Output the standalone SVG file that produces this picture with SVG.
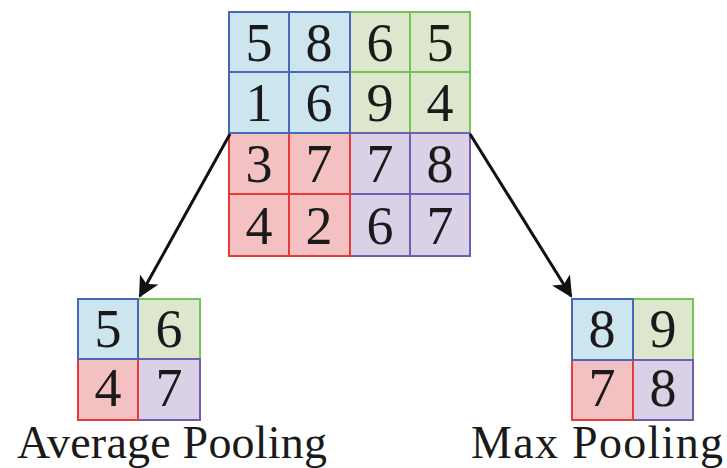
<svg xmlns="http://www.w3.org/2000/svg" width="727" height="468" viewBox="0 0 727 468">
  <defs>
    <style>
      .b { fill: #cde5ee; stroke: #4a66b8; stroke-width: 2; }
      .g { fill: #dde7cd; stroke: #74c458; stroke-width: 2; }
      .r { fill: #f3c1c1; stroke: #e93a3a; stroke-width: 2; }
      .p { fill: #dbd1e6; stroke: #6f5fae; stroke-width: 2; }
      text { font-family: "Liberation Serif", "Times New Roman", "DejaVu Serif", serif; fill: #1a1a1a; }
      .d { font-size: 54px; text-anchor: middle; }
      .lbl { font-size: 46px; }
      .conn { stroke: #111; stroke-width: 3; fill: none; marker-end: url(#head); }
    </style>
    <marker id="head" viewBox="0 0 10 10" refX="9" refY="5" markerWidth="7" markerHeight="7" markerUnits="strokeWidth" orient="auto">
      <path d="M0,0 L10,5 L0,10 L2.5,5 Z" fill="#111"/>
    </marker>
  </defs>
  <rect width="727" height="468" fill="#ffffff"/>

  <!-- 4x4 input feature map -->
  <g id="input">
    <rect class="g" x="350" y="12" width="60" height="60"/>
    <rect class="g" x="410" y="12" width="60" height="60"/>
    <rect class="g" x="350" y="72" width="60" height="61"/>
    <rect class="g" x="410" y="72" width="60" height="61"/>
    <rect class="p" x="350" y="133" width="60" height="61"/>
    <rect class="p" x="410" y="133" width="60" height="61"/>
    <rect class="p" x="350" y="194" width="60" height="62"/>
    <rect class="p" x="410" y="194" width="60" height="62"/>
    <rect class="r" x="229" y="133" width="60" height="61"/>
    <rect class="r" x="289" y="133" width="61" height="61"/>
    <rect class="r" x="229" y="194" width="60" height="62"/>
    <rect class="r" x="289" y="194" width="61" height="62"/>
    <rect class="b" x="229" y="12" width="60" height="60"/>
    <rect class="b" x="289" y="12" width="61" height="60"/>
    <rect class="b" x="229" y="72" width="60" height="61"/>
    <rect class="b" x="289" y="72" width="61" height="61"/>
    <text class="d" x="259" y="61">5</text>
    <text class="d" x="319" y="61">8</text>
    <text class="d" x="380" y="61">6</text>
    <text class="d" x="440" y="61">5</text>
    <text class="d" x="259" y="121">1</text>
    <text class="d" x="319" y="121">6</text>
    <text class="d" x="380" y="121">9</text>
    <text class="d" x="440" y="121">4</text>
    <text class="d" x="259" y="182">3</text>
    <text class="d" x="319" y="182">7</text>
    <text class="d" x="380" y="182">7</text>
    <text class="d" x="440" y="182">8</text>
    <text class="d" x="259" y="244">4</text>
    <text class="d" x="319" y="244">2</text>
    <text class="d" x="380" y="244">6</text>
    <text class="d" x="440" y="244">7</text>
  </g>

  <!-- 2x2 average pooling result -->
  <g id="avg">
    <rect class="g" x="138" y="299" width="62" height="60"/>
    <rect class="p" x="138" y="359" width="62" height="61"/>
    <rect class="r" x="78" y="359" width="60" height="61"/>
    <rect class="b" x="78" y="299" width="60" height="60"/>
    <text class="d" x="108" y="347">5</text>
    <text class="d" x="169" y="347">6</text>
    <text class="d" x="108" y="406">4</text>
    <text class="d" x="169" y="406">7</text>
    <text class="lbl" x="17" y="458" textLength="310">Average Pooling</text>
  </g>

  <!-- 2x2 max pooling result -->
  <g id="max">
    <rect class="g" x="633" y="299" width="60" height="61"/>
    <rect class="p" x="633" y="360" width="60" height="60"/>
    <rect class="r" x="572" y="360" width="61" height="60"/>
    <rect class="b" x="572" y="299" width="61" height="61"/>
    <text class="d" x="602" y="347">8</text>
    <text class="d" x="663" y="347">9</text>
    <text class="d" x="602" y="406">7</text>
    <text class="d" x="663" y="406">8</text>
    <text class="lbl" x="471" y="458" textLength="252">Max Pooling</text>
  </g>

  <!-- connectors -->
  <g id="connectors">
    <line class="conn" x1="230" y1="134" x2="140" y2="296"/>
    <line class="conn" x1="470" y1="134" x2="571" y2="296"/>
  </g>
</svg>
